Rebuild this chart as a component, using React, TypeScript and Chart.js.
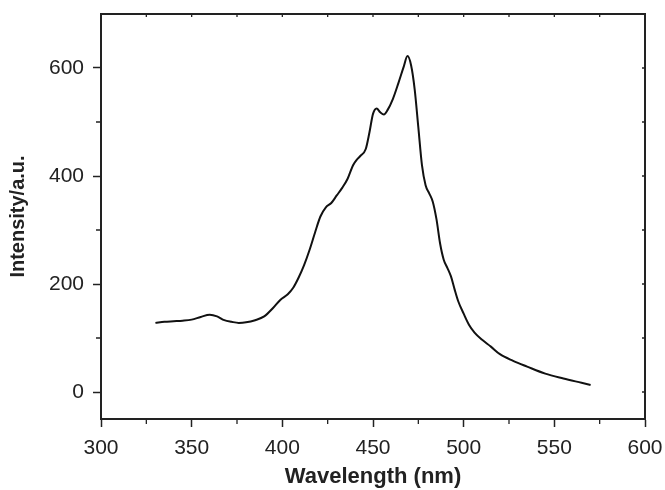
import React, { useEffect, useRef } from "react";
import { Chart, registerables } from "chart.js";

Chart.register(...registerables);

const wavelength = [
  330, 335, 340, 345, 350, 355, 360, 364, 368, 372, 376, 380, 385, 390, 395, 399,
  403, 406, 409, 412, 415, 418, 421, 424, 427, 430, 433, 436, 439, 441, 443, 446,
  448, 450, 452, 454, 456, 458, 461, 464, 467, 469, 471, 473, 475, 477, 479, 481,
  483, 485, 487, 489, 491, 493, 495, 497, 500, 503, 506, 510, 515, 520, 527, 535,
  545, 555, 565, 570,
];
const intensity = [
  128, 130, 131, 132, 134, 139, 143, 140, 133, 130, 128, 129, 133, 140, 156, 171,
  181, 193, 212, 235, 263, 295, 325, 342, 350, 364, 378, 395, 420, 430, 437, 450,
  480, 515, 525, 518, 514, 522, 543, 572, 603, 622, 605, 560, 490, 420, 383, 368,
  352, 320, 275, 245, 230, 214, 190, 168, 145, 124, 110, 97, 84, 70, 58, 47,
  34, 25, 17, 13,
];
const xTicks = [300, 350, 400, 450, 500, 550, 600];
const xMinorTicks = [325, 375, 425, 475, 525, 575];
const xTopTicks = [325, 350, 375, 400, 425, 450, 475, 500, 525, 550, 575];
const yTicks = [0, 200, 400, 600];
const yMinorTicks = [100, 300, 500];
const yRightTicks = [0, 100, 200, 300, 400, 500, 600];

const FONT = "'Liberation Sans', Arial, Helvetica, sans-serif";
const AXIS = "#222222";

const framePlugin = {
  id: "frame",
  afterDraw(chart: any) {
    const { ctx, chartArea: a, scales } = chart;
    const xs = scales.x;
    const ys = scales.y;
    ctx.save();
    ctx.strokeStyle = AXIS;
    ctx.lineWidth = 2;
    ctx.beginPath();
    ctx.moveTo(a.left, a.top);
    ctx.lineTo(a.right, a.top);
    ctx.lineTo(a.right, a.bottom);
    ctx.stroke();
    ctx.lineWidth = 1.3;
    ctx.beginPath();
    xMinorTicks.forEach((v) => {
      const px = xs.getPixelForValue(v);
      ctx.moveTo(px, a.bottom);
      ctx.lineTo(px, a.bottom + 5);
    });
    xTopTicks.forEach((v) => {
      const px = xs.getPixelForValue(v);
      ctx.moveTo(px, a.top);
      ctx.lineTo(px, a.top + 3);
    });
    yMinorTicks.forEach((v) => {
      const py = ys.getPixelForValue(v);
      ctx.moveTo(a.left, py);
      ctx.lineTo(a.left - 5, py);
    });
    yRightTicks.forEach((v) => {
      const py = ys.getPixelForValue(v);
      ctx.moveTo(a.right, py);
      ctx.lineTo(a.right - 3, py);
    });
    ctx.stroke();
    ctx.restore();
  },
};

export default function App() {
  const ref = useRef<HTMLCanvasElement | null>(null);
  useEffect(() => {
    if (!ref.current) return;
    const chart = new Chart(ref.current, {
      type: "line",
      data: {
        datasets: [
          {
            data: wavelength.map((x, i) => ({ x, y: intensity[i] })),
            borderColor: "#111111",
            borderWidth: 2,
            pointRadius: 0,
            cubicInterpolationMode: "monotone",
            fill: false,
          },
        ],
      },
      options: {
        animation: false,
        responsive: false,
        layout: { padding: { top: 14, right: 20, left: 0, bottom: 0 } },
        plugins: { legend: { display: false }, tooltip: { enabled: false } },
        scales: {
          x: {
            type: "linear",
            min: 300,
            max: 600,
            afterFit: (s: any) => {
              s.height = 71;
              s.paddingLeft = 0;
              s.paddingRight = 0;
            },
            afterBuildTicks: (s: any) => {
              s.ticks = xTicks.map((v) => ({ value: v }));
            },
            grid: {
              drawOnChartArea: false,
              drawTicks: true,
              tickLength: 8,
              tickColor: AXIS,
              tickWidth: 1.5,
            },
            border: { display: true, color: AXIS, width: 2 },
            ticks: {
              autoSkip: false,
              maxRotation: 0,
              padding: 9,
              color: "#222",
              font: { family: FONT, size: 21 },
            },
            title: {
              display: true,
              text: "Wavelength (nm)",
              color: "#222",
              font: { family: FONT, size: 22, weight: "bold" },
              padding: { top: 0, bottom: 0 },
            },
          },
          y: {
            type: "linear",
            min: -50,
            max: 700,
            afterFit: (s: any) => {
              s.width = 101;
              s.paddingTop = 0;
              s.paddingBottom = 0;
            },
            afterBuildTicks: (s: any) => {
              s.ticks = yTicks.map((v) => ({ value: v }));
            },
            grid: {
              drawOnChartArea: false,
              drawTicks: true,
              tickLength: 8,
              tickColor: AXIS,
              tickWidth: 1.5,
            },
            border: { display: true, color: AXIS, width: 2 },
            ticks: {
              padding: 9,
              color: "#222",
              font: { family: FONT, size: 21 },
            },
            title: {
              display: true,
              text: "Intensity/a.u.",
              color: "#222",
              font: { family: FONT, size: 20, weight: "bold" },
              padding: { top: 6, bottom: 0 },
            },
          },
        },
      },
      plugins: [framePlugin],
    });
    return () => chart.destroy();
  }, []);
  return (
    <div style={{ position: "fixed", left: 0, top: 0, width: 665, height: 490, background: "#fff" }}>
      <canvas ref={ref} width={665} height={490} style={{ display: "block" }} />
    </div>
  );
}
